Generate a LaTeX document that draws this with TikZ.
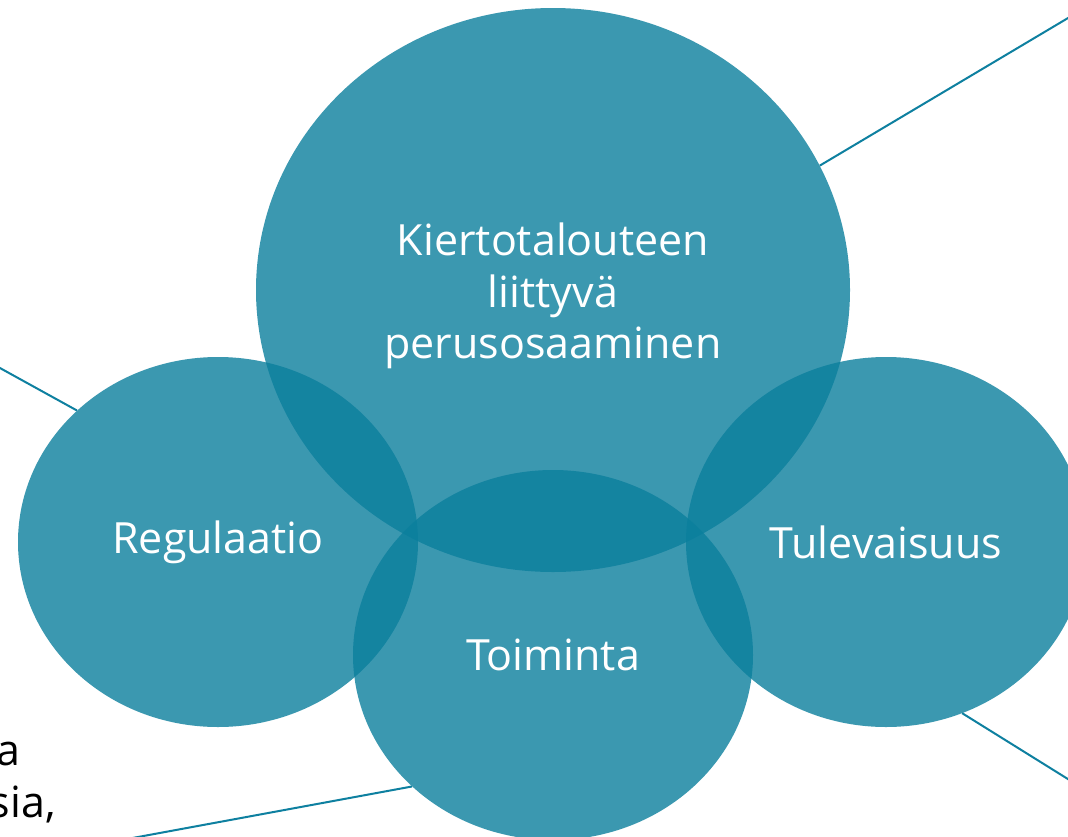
\documentclass[tikz,border=0pt]{standalone}
\usepackage{fontspec}
\setmainfont{Open Sans}
\usetikzlibrary{shapes.geometric}
\definecolor{teal}{HTML}{0B7F9D}
\definecolor{linecol}{HTML}{0E80A0}
\tikzset{
  bubble/.style={ellipse, fill=teal, fill opacity=0.8, text opacity=1, text=white,
    inner sep=0pt, align=center, font=\fontsize{43}{51.5}\selectfont},
  bubbletext/.style={text=white, inner sep=0pt, align=center, font=\fontsize{43}{51.5}\selectfont},
  connector/.style={draw=linecol, line width=2pt},
  sidetext/.style={anchor=base east, inner sep=0pt, text=black, font=\fontsize{43}{51.5}\selectfont}
}
\begin{document}
\begin{tikzpicture}[x=1pt, y=-1pt]
\fill[white] (0,0) rectangle (1068,836);
\useasboundingbox (0,0) rectangle (1068,836);
\node[bubble, minimum width=594pt, minimum height=564pt] (big) at (553,290) {};
\node[bubble, minimum width=400pt, minimum height=370pt] (reg) at (218,542) {Regulaatio};
\node[bubble, minimum width=400pt, minimum height=370pt] (tul) at (886,542) {Tulevaisuus};
\node[bubble, minimum width=400pt, minimum height=370pt] (toim) at (553,655) {Toiminta};
\node[bubbletext] (bigtext) at (553,296) {Kiertotalouteen\\liittyvä\\perusosaaminen};
\coordinate (endtr) at (1100,-1);
\coordinate (endl) at (-20,357);
\coordinate (endbr) at (1100,799);
\coordinate (endb) at (100,844);
\draw[connector] (big.25) -- (endtr);
\draw[connector] (reg.137) -- (endl);
\draw[connector] (tul.-66) -- (endbr);
\draw[connector] (toim.223) -- (endb);
\node[sidetext] (sa) at (20.5,765) {a};
\node[sidetext] (ssia) at (56,817) {sia,};
\end{tikzpicture}
\end{document}
